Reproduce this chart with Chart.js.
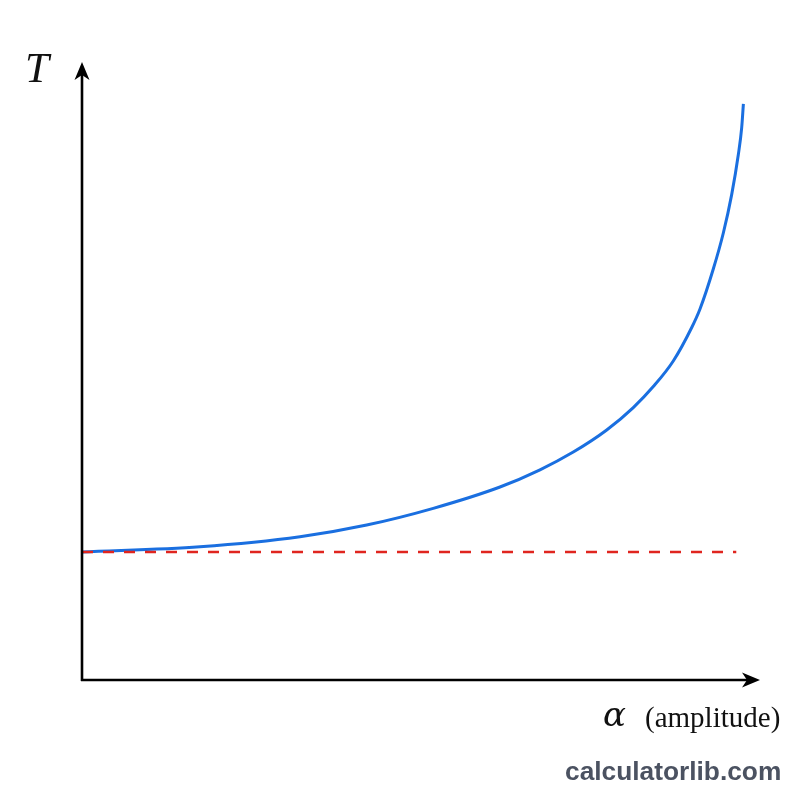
<!DOCTYPE html>
<html>
<head>
<meta charset="utf-8">
<script src="https://cdn.jsdelivr.net/npm/chart.js@4"></script>
<style>
  html, body { margin: 0; padding: 0; background: #ffffff; }
  #wrap { position: relative; width: 800px; height: 800px; }
  canvas { position: absolute; left: 0; top: 0; }
  .lbl { position: absolute; line-height: 1; white-space: nowrap; }
  .math { font-family: "Liberation Serif", "DejaVu Serif", serif; font-style: italic; color: #111; }
  .greek { font-family: "DejaVu Serif", serif; font-style: italic; color: #111; }
  .txt { font-family: "Liberation Serif", "DejaVu Serif", serif; color: #111; }
  .brand { font-family: "Liberation Sans", Arial, sans-serif; font-weight: bold; color: #4b5261; }
</style>
</head>
<body>
<div id="wrap">
  <canvas id="chart" width="800" height="800"></canvas>
  <div class="lbl math" style="left:25px; top:46px; font-size:43px;">T</div>
  <div class="lbl greek" style="left:603px; top:697px; font-size:34px;">α</div>
  <div class="lbl txt" style="left:645px; top:703px; font-size:29px;">(amplitude)</div>
  <div class="lbl brand" style="left:565px; top:758px; font-size:26.3px;">calculatorlib.com</div>
</div>
<script>
// amplitude (0..100 along the axis) and period T (0..100 along the axis)
const amplitude = [0, 17.4, 32.15, 41.99, 51.81, 61.65, 67.55, 72.46, 77.39, 81.31, 84.26, 87.21, 89.93, 91.15, 93.11, 94.59, 95.83, 96.8, 97.3, 97.55];
const period    = [20.71, 21.57, 23.19, 25.08, 27.78, 31.23, 34.01, 36.88, 40.45, 44.08, 47.48, 51.62, 57.04, 60.03, 66.5, 72.33, 78.58, 84.98, 89.38, 93.24];

// small-angle period T0 (horizontal reference)
const smallAngleX = [0, 96.5];
const smallAngleT = 20.71;

const curve = amplitude.map((a, i) => ({ x: a, y: period[i] }));
const baseline = smallAngleX.map(a => ({ x: a, y: smallAngleT }));

// draws both axes with arrow heads
const arrowAxes = {
    id: 'arrowAxes',
    afterDatasetsDraw(chart) {
        const ctx = chart.ctx;
        const xs = chart.scales.x, ys = chart.scales.y;
        const x0 = xs.getPixelForValue(0), y0 = ys.getPixelForValue(0);
        const xEnd = xs.getPixelForValue(100), yEnd = ys.getPixelForValue(100);
        ctx.save();
        ctx.strokeStyle = '#000';
        ctx.fillStyle = '#000';
        ctx.lineWidth = 2.6;
        ctx.beginPath();
        ctx.moveTo(x0, y0 + 1);
        ctx.lineTo(x0, yEnd + 12);
        ctx.moveTo(x0 - 1, y0);
        ctx.lineTo(xEnd - 12, y0);
        ctx.stroke();

        // y arrow head
        ctx.beginPath();
        ctx.moveTo(x0, yEnd);
        ctx.lineTo(x0 + 7.5, yEnd + 18);
        ctx.lineTo(x0, yEnd + 13);
        ctx.lineTo(x0 - 7.5, yEnd + 18);
        ctx.closePath();
        ctx.fill();

        // x arrow head
        ctx.beginPath();
        ctx.moveTo(xEnd, y0);
        ctx.lineTo(xEnd - 18, y0 - 7.5);
        ctx.lineTo(xEnd - 13, y0);
        ctx.lineTo(xEnd - 18, y0 + 7.5);
        ctx.closePath();
        ctx.fill();
        ctx.restore();
    }
};

new Chart(document.getElementById('chart').getContext('2d'), {
    type: 'line',
    data: {
        datasets: [
            {
                label: 'T0',
                data: baseline,
                borderColor: '#e0251f',
                borderWidth: 2.6,
                borderDash: [11, 10],
                pointRadius: 0,
                fill: false
            },
            {
                label: 'T',
                data: curve,
                borderColor: '#1a6fe0',
                borderWidth: 3,
                pointRadius: 0,
                cubicInterpolationMode: 'monotone',
                fill: false
            }
        ]
    },
    options: {
        responsive: false,
        animation: false,
        layout: {
            padding: { left: 82, top: 62, right: 40, bottom: 120 }
        },
        plugins: {
            legend: { display: false },
            tooltip: { enabled: false }
        },
        scales: {
            x: { type: 'linear', min: 0, max: 100, display: false },
            y: { type: 'linear', min: 0, max: 100, display: false }
        }
    },
    plugins: [arrowAxes]
});
</script>
</body>
</html>
